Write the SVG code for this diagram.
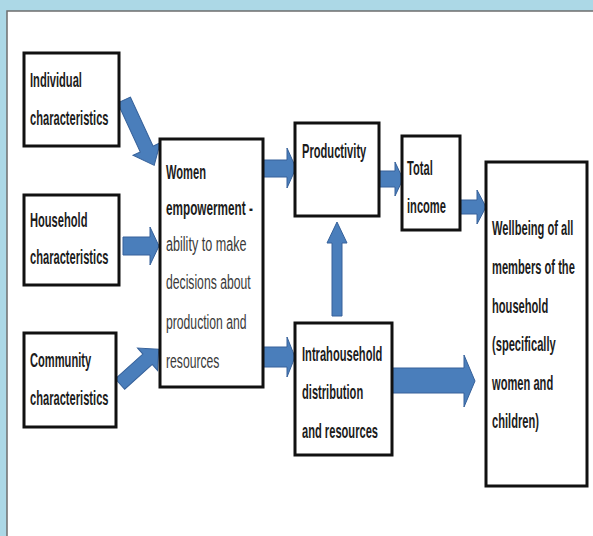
<svg xmlns="http://www.w3.org/2000/svg" width="593" height="536" viewBox="0 0 593 536">
<style>
.box{fill:#ffffff;stroke:#111111;stroke-width:3}
.lb{font-family:"Liberation Sans",Arial,sans-serif;font-size:21px;font-weight:bold;fill:#1c1c1c}
.lr{font-family:"Liberation Sans",Arial,sans-serif;font-size:21px;font-weight:normal;fill:#3a3a3a}
.arr{fill:#4a7ebb;stroke:#36619a;stroke-width:1;stroke-linejoin:miter}
</style>
<rect x="0" y="0" width="593" height="536" fill="#acd8e6"/>
<rect x="7" y="11" width="590" height="530" fill="#ffffff" stroke="#6e6e6e" stroke-width="1.5"/>

<g id="connectors">
  <polygon class="arr" transform="translate(124,100) rotate(65.2)" points="0,-7 54,-7 54,-15 72,0 54,15 54,7 0,7"/>
  <polygon class="arr" points="123,237 150,237 150,227 159,246 150,265 150,255 123,255"/>
  <polygon class="arr" transform="translate(120,384) rotate(-41.9)" points="0,-7 37,-7 37,-15 52,0 37,15 37,7 0,7"/>
  <polygon class="arr" points="262,160 287,160 287,148 296,168 287,188 287,177 262,177"/>
  <polygon class="arr" points="262,347 287,347 287,337 295,357 287,377 287,367 262,367"/>
  <polygon class="arr" points="378,171 395,171 395,162 403,179 395,196 395,187 378,187"/>
  <polygon class="arr" points="459,200 477,200 477,190 486,207 477,224 477,214 459,214"/>
  <polygon class="arr" points="332,316 332,243 327,243 337,222 347,243 342,243 342,316"/>
  <polygon class="arr" points="390,368 464,368 464,355 475,381 464,407 464,393 390,393"/>
</g>

<g id="individual">
  <rect class="box" x="24" y="53" width="95" height="93"/>
  <text class="lb" transform="translate(30,87) scale(0.53,1)">Individual</text>
  <text class="lb" transform="translate(30,125) scale(0.53,1)">characteristics</text>
</g>
<g id="household">
  <rect class="box" x="24" y="195" width="95" height="90"/>
  <text class="lb" transform="translate(30,227) scale(0.53,1)">Household</text>
  <text class="lb" transform="translate(30,264) scale(0.53,1)">characteristics</text>
</g>
<g id="community">
  <rect class="box" x="24" y="333" width="92" height="94"/>
  <text class="lb" transform="translate(30,367) scale(0.53,1)">Community</text>
  <text class="lb" transform="translate(30,405) scale(0.53,1)">characteristics</text>
</g>
<g id="women">
  <rect class="box" x="160" y="139" width="103" height="248"/>
  <text class="lb" transform="translate(166,179) scale(0.53,1)">Women</text>
  <text class="lb" transform="translate(166,215) scale(0.56,1)">empowerment -</text>
  <text class="lr" transform="translate(166,251) scale(0.6,1)">ability to make</text>
  <text class="lr" transform="translate(166,289) scale(0.58,1)">decisions about</text>
  <text class="lr" transform="translate(166,329) scale(0.58,1)">production and</text>
  <text class="lr" transform="translate(166,368) scale(0.58,1)">resources</text>
</g>
<g id="productivity">
  <rect class="box" x="295" y="123" width="84" height="93"/>
  <text class="lb" transform="translate(302,158) scale(0.53,1)">Productivity</text>
</g>
<g id="total-income">
  <rect class="box" x="402" y="136" width="58" height="94"/>
  <text class="lb" transform="translate(407,175) scale(0.53,1)">Total</text>
  <text class="lb" transform="translate(407,213) scale(0.53,1)">income</text>
</g>
<g id="intrahousehold">
  <rect class="box" x="295" y="323" width="97" height="132"/>
  <text class="lb" transform="translate(302,361) scale(0.53,1)">Intrahousehold</text>
  <text class="lb" transform="translate(302,399) scale(0.53,1)">distribution</text>
  <text class="lb" transform="translate(302,438) scale(0.53,1)">and resources</text>
</g>
<g id="wellbeing">
  <rect class="box" x="486" y="162" width="101" height="324"/>
  <text class="lb" transform="translate(492,235) scale(0.53,1)">Wellbeing of all</text>
  <text class="lb" transform="translate(492,274) scale(0.53,1)">members of the</text>
  <text class="lb" transform="translate(492,313) scale(0.53,1)">household</text>
  <text class="lb" transform="translate(492,351) scale(0.53,1)">(specifically</text>
  <text class="lb" transform="translate(492,390) scale(0.53,1)">women and</text>
  <text class="lb" transform="translate(492,428) scale(0.53,1)">children)</text>
</g>
</svg>
